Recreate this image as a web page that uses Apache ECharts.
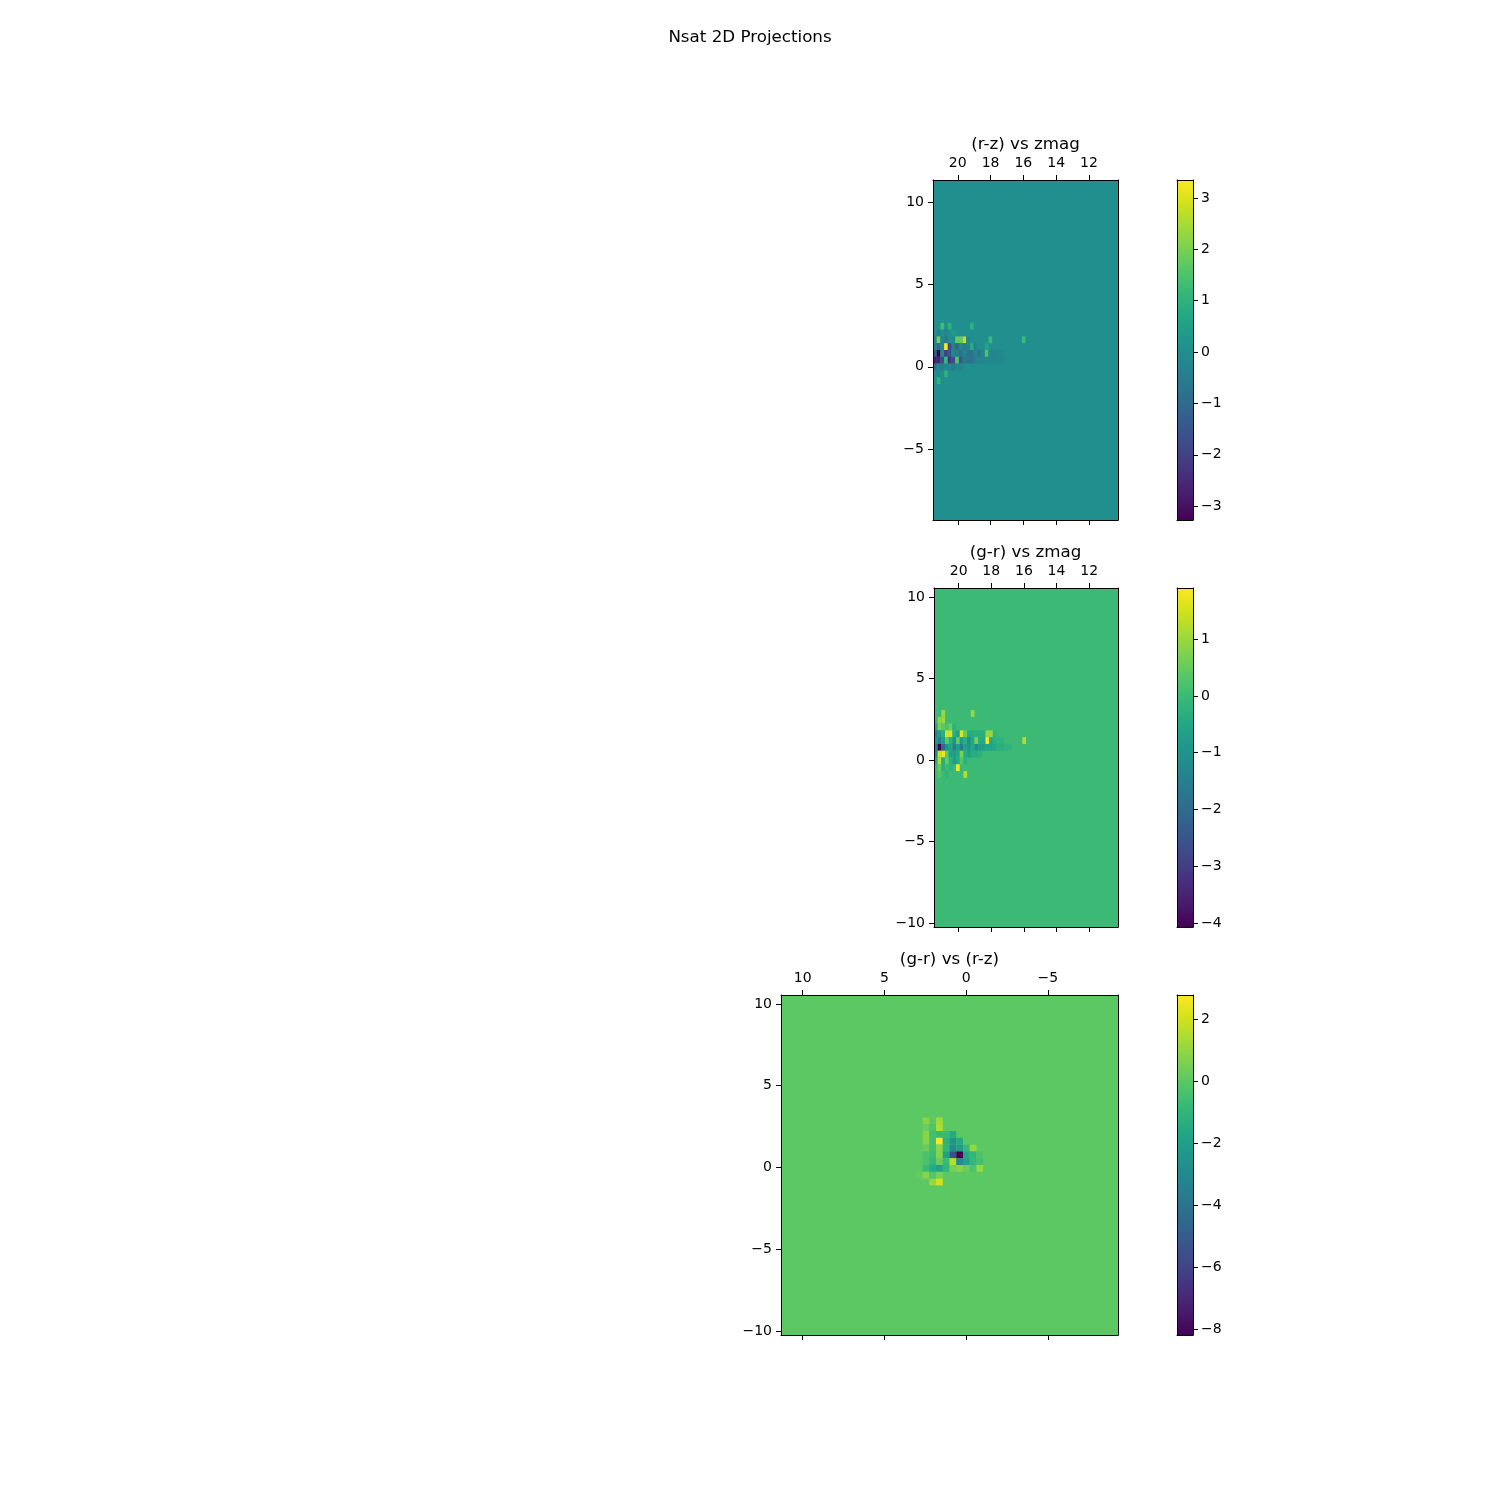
<!DOCTYPE html>
<html>
<head>
<meta charset="utf-8">
<script src="https://cdn.jsdelivr.net/npm/echarts@6/dist/echarts.min.js"></script>
<style>html,body{margin:0;padding:0;background:#fff}#chart{width:1500px;height:1500px}</style>
</head>
<body>
<div id="chart"></div>
<script>
// ---- data ----
const NBINS = 50;
const zmagRange = [10.23, 21.51];
const rzRange = [-9.29, 11.33];
const grRange = [-10.25, 10.55];
const backgroundValue = 0;

// cells [column from left, row from top, value]
const rzZmagCells = [
 [2,21,1.3],[4,21,1.0],[10,21,1.0],
 [1,22,-0.4],[3,22,-0.3],[5,22,0.3],
 [0,23,-0.3],[1,23,2.0],[2,23,-0.4],[3,23,-0.6],[6,23,1.8],[7,23,1.8],[8,23,2.7],[9,23,-0.3],[15,23,1.2],[24,23,1.2],
 [0,24,-0.4],[1,24,-1.0],[2,24,-0.3],[3,24,3.35],[4,24,-1.8],[5,24,-0.4],[6,24,-1.0],[7,24,-0.3],[8,24,-0.6],[9,24,-0.4],[10,24,0.8],[11,24,-0.3],[14,24,0.6],
 [0,25,-1.5],[1,25,-3.27],[2,25,-0.3],[3,25,-2.0],[4,25,-1.5],[5,25,-0.3],[6,25,-0.5],[7,25,-0.8],[8,25,-0.3],[9,25,-0.8],[10,25,-0.8],[11,25,-0.3],[12,25,-0.7],[13,25,-0.3],[14,25,1.5],[15,25,-0.2],[16,25,-0.3],[17,25,-0.2],[18,25,-0.2],
 [0,26,-2.8],[1,26,-2.6],[2,26,-1.8],[3,26,1.2],[4,26,-2.3],[5,26,-1.8],[6,26,1.6],[7,26,-1.6],[8,26,-0.7],[9,26,-0.8],[10,26,-0.8],[11,26,-0.4],[12,26,-0.3],[13,26,-0.3],[14,26,-0.3],[15,26,-0.2],[16,26,-0.2],[17,26,-0.2],[18,26,-0.2],[19,26,-0.1],
 [0,27,-1.0],[1,27,-0.3],[2,27,-0.5],[3,27,-0.2],[4,27,-0.3],[5,27,-0.5],[6,27,-0.2],[7,27,-0.3],
 [1,28,-0.2],[3,28,1.0],
 [1,29,1.0]
];
const grZmagCells = [
 [2,18,1.0],[10,18,1.0],
 [1,19,0.9],[2,19,1.0],
 [0,20,-0.5],[1,20,0.7],[2,20,0.4],[3,20,0.2],[4,20,0.6],[5,20,-0.3],
 [0,21,-1.5],[1,21,-0.8],[2,21,-0.3],[3,21,1.6],[4,21,1.6],[5,21,-0.3],[6,21,-0.7],[7,21,1.6],[8,21,0.5],[9,21,-0.4],[10,21,-0.4],[11,21,-0.3],[12,21,-0.3],[13,21,-0.3],[14,21,1.0],[15,21,1.0],[16,21,-0.2],
 [0,22,-1.0],[1,22,-1.5],[2,22,-0.7],[3,22,0.5],[4,22,-0.3],[5,22,-1.0],[6,22,0.5],[7,22,-0.8],[8,22,-0.3],[9,22,-1.2],[10,22,-0.5],[11,22,0.7],[12,22,-0.4],[13,22,-0.5],[14,22,1.9],[15,22,-0.5],[16,22,-0.3],[17,22,-0.2],[18,22,-0.2],[24,22,1.2],
 [0,23,-1.5],[1,23,-4.07],[2,23,-2.0],[3,23,-1.0],[4,23,-0.6],[5,23,-1.5],[6,23,-0.7],[7,23,-1.6],[8,23,-0.6],[9,23,-1.0],[10,23,-0.5],[11,23,-1.2],[12,23,-0.8],[13,23,-0.7],[14,23,-0.6],[15,23,-0.6],[16,23,-0.5],[17,23,-0.3],[18,23,-0.3],[19,23,-0.2],[20,23,-0.2],
 [0,24,-1.3],[1,24,1.5],[2,24,1.7],[3,24,0.4],[4,24,-0.7],[5,24,-0.8],[6,24,-0.5],[7,24,0.7],[8,24,-0.4],[9,24,-0.7],[10,24,-0.4],[11,24,-0.4],[12,24,-0.3],
 [0,25,-0.5],[1,25,1.2],[2,25,-0.4],[3,25,0.5],[4,25,-0.3],[5,25,-0.8],[6,25,-0.4],[7,25,0.3],[8,25,-0.3],
 [1,26,0.5],[2,26,-0.3],[4,26,-0.2],[6,26,1.8],
 [1,27,0.3],[3,27,-0.2],[8,27,1.2]
];
const grRzCells = [
 [21,18,0.8],[23,18,1.2],
 [21,19,0.3],[22,19,-0.3],[23,19,1.5],
 [21,20,0.8],[22,20,-0.5],[23,20,-0.8],[24,20,-0.8],[25,20,-1.5],
 [21,21,0.8],[22,21,-0.5],[23,21,2.77],[24,21,-1.2],[25,21,-2.5],[26,21,-1.5],
 [21,22,0.3],[22,22,-0.5],[23,22,0.8],[24,22,-1.0],[25,22,-3.0],[26,22,-2.0],[27,22,-0.8],[28,22,1.0],
 [21,23,-0.3],[22,23,-0.7],[23,23,0.8],[24,23,-2.0],[25,23,-5.5],[26,23,-8.19],[27,23,-1.5],[28,23,-1.0],[29,23,-0.3],
 [21,24,-0.3],[22,24,-1.0],[23,24,0.3],[24,24,-0.8],[25,24,1.5],[26,24,-3.0],[27,24,-2.0],[28,24,-1.0],[29,24,-0.5],
 [21,25,-0.8],[22,25,-1.5],[23,25,-2.0],[24,25,-1.0],[25,25,0.5],[26,25,0.8],[27,25,0.3],[28,25,-0.3],[29,25,1.0],
 [20,26,0.2],[21,26,0.8],[22,26,-0.2],[23,26,0.5],
 [22,27,1.0],[23,27,2.0]
];

const zmagTicks = [12, 14, 16, 18, 20];
const rzTicks = [-5, 0, 5, 10];
const grTicks = [-10, -5, 0, 5, 10];
const cbarRanges = [[-3.27, 3.35], [-4.07, 1.90], [-8.19, 2.77]];
const cbarTicks = [[-3,-2,-1,0,1,2,3], [-4,-3,-2,-1,0,1], [-8,-6,-4,-2,0,2]];
const titles = ['(r-z) vs zmag', '(g-r) vs zmag', '(g-r) vs (r-z)'];
const suptitle = 'Nsat 2D Projections';

const VIRIDIS = ['#440154','#481a6c','#472f7d','#414487','#39568c','#31688e','#2a788e','#23888e',
                 '#1f988b','#22a884','#35b779','#54c568','#7ad151','#a5db36','#d2e21b','#fde725'];

// ---- layout ----
const FONT = 'DejaVu Sans';
const panels = [
  {grid:{left:933, top:180, width:185, height:340}, xr:zmagRange, yr:rzRange, xt:zmagTicks, yt:rzTicks, cells:rzZmagCells},
  {grid:{left:934, top:588, width:184, height:339}, xr:zmagRange, yr:grRange, xt:zmagTicks, yt:grTicks, cells:grZmagCells},
  {grid:{left:781, top:995, width:337, height:340}, xr:rzRange, yr:grRange, xt:rzTicks, yt:grTicks, cells:grRzCells}
];
const cbarGrids = [
  {left:1177, top:180, width:16, height:340},
  {left:1177, top:588, width:16, height:339},
  {left:1177, top:995, width:16, height:340}
];

const fmt = v => String(v).replace('-', '\u2212');
const lineStyle = {color:'#000', width:1};

function buildCells(p) {
  const dx = (p.xr[1] - p.xr[0]) / NBINS, dy = (p.yr[1] - p.yr[0]) / NBINS;
  // image: column 0 at the left (largest x, axis inverted), row 0 at the top (largest y)
  const out = [[p.xr[1], p.xr[0], p.yr[0], p.yr[1], backgroundValue]];
  p.cells.forEach(([c, r, v]) => {
    const xa = p.xr[1] - c * dx, xb = p.xr[1] - (c + 1) * dx;
    const ya = p.yr[1] - r * dy, yb = p.yr[1] - (r + 1) * dy;
    out.push([xa, xb, yb, ya, v]);
  });
  return out;
}

const grids = [], xAxes = [], yAxes = [], series = [], visualMaps = [];

function addAxes(gi, xr, yr, xt, yt, opts) {
  const base = {gridIndex:gi, type:'value', z:10, splitLine:{show:false},
    axisLine:{show:true, onZero:false, lineStyle}};
  xAxes.push(Object.assign({}, base, {position:'top', inverse:opts.inverseX, min:xr[0], max:xr[1],
    axisTick: xt ? {show:true, length:5, customValues:xt, lineStyle} : {show:false},
    axisLabel: xt ? {show:true, customValues:xt, margin:10, color:'#000', fontSize:14, fontFamily:FONT, formatter:fmt} : {show:false}}));
  xAxes.push(Object.assign({}, base, {position:'bottom', inverse:opts.inverseX, min:xr[0], max:xr[1],
    axisTick: xt ? {show:true, length:5, customValues:xt, lineStyle} : {show:false},
    axisLabel:{show:false}}));
  yAxes.push(Object.assign({}, base, {position:'left', min:yr[0], max:yr[1],
    axisTick: opts.leftTicks ? {show:true, length:5, customValues:yt, lineStyle} : {show:false},
    axisLabel: opts.leftTicks ? {show:true, customValues:yt, margin:9, color:'#000', fontSize:14, fontFamily:FONT, formatter:fmt} : {show:false}}));
  yAxes.push(Object.assign({}, base, {position:'right', min:yr[0], max:yr[1],
    axisTick: opts.rightTicks ? {show:true, length:5, customValues:yt, lineStyle} : {show:false},
    axisLabel: opts.rightTicks ? {show:true, customValues:yt, margin:8, color:'#000', fontSize:14, fontFamily:FONT, formatter:fmt} : {show:false}}));
}

panels.forEach((p, i) => {
  const gi = grids.length;
  grids.push(Object.assign({show:false, containLabel:false}, p.grid));
  addAxes(gi, p.xr, p.yr, p.xt, p.yt, {inverseX:true, leftTicks:true, rightTicks:false});
  const si = series.length;
  series.push({
    type:'custom', coordinateSystem:'cartesian2d', xAxisIndex:2*gi, yAxisIndex:2*gi,
    data: buildCells(p), encode:{x:[0,1], y:[2,3]}, silent:true, animation:false,
    renderItem: function (params, api) {
      const p0 = api.coord([api.value(0), api.value(2)]);
      const p1 = api.coord([api.value(1), api.value(3)]);
      return {type:'rect', shape:{x:Math.min(p0[0],p1[0]), y:Math.min(p0[1],p1[1]),
        width:Math.abs(p1[0]-p0[0]), height:Math.abs(p1[1]-p0[1])},
        style:{fill: api.visual('color')}};
    }
  });
  visualMaps.push({type:'continuous', show:false, seriesIndex:si, dimension:4,
    min:cbarRanges[i][0], max:cbarRanges[i][1], inRange:{color:VIRIDIS}});
});

cbarGrids.forEach((g, i) => {
  const gi = grids.length;
  grids.push(Object.assign({show:false, containLabel:false}, g));
  addAxes(gi, [0, 1], cbarRanges[i], null, cbarTicks[i], {inverseX:false, leftTicks:false, rightTicks:true});
  series.push({
    type:'custom', coordinateSystem:'cartesian2d', xAxisIndex:2*gi, yAxisIndex:2*gi+1,
    data:[[0, 1, cbarRanges[i][0], cbarRanges[i][1]]], encode:{x:[0,1], y:[2,3]}, silent:true, animation:false,
    renderItem: function (params, api) {
      const p0 = api.coord([api.value(0), api.value(2)]);
      const p1 = api.coord([api.value(1), api.value(3)]);
      return {type:'rect', shape:{x:Math.min(p0[0],p1[0]), y:Math.min(p0[1],p1[1]),
        width:Math.abs(p1[0]-p0[0]), height:Math.abs(p1[1]-p0[1])},
        style:{fill: new echarts.graphic.LinearGradient(0, 1, 0, 0,
          VIRIDIS.map((c, k) => ({offset: k / (VIRIDIS.length - 1), color: c})))}};
    }
  });
});

const titlePos = [[1025.5, 145], [1025.5, 553], [949.5, 960]];
const graphics = [{type:'text', x:750, y:38, style:{text:suptitle, fill:'#000', font:'16.7px "DejaVu Sans"', textAlign:'center', textVerticalAlign:'middle'}}];
titles.forEach((t, i) => graphics.push({type:'text', x:titlePos[i][0], y:titlePos[i][1],
  style:{text:t, fill:'#000', font:'16.7px "DejaVu Sans"', textAlign:'center', textVerticalAlign:'middle'}}));

const chart = echarts.init(document.getElementById('chart'), null, {renderer:'canvas'});
chart.setOption({
  animation:false,
  backgroundColor:'#ffffff',
  grid:grids, xAxis:xAxes, yAxis:yAxes, series, visualMap:visualMaps,
  graphic:graphics
});
</script>
</body>
</html>
